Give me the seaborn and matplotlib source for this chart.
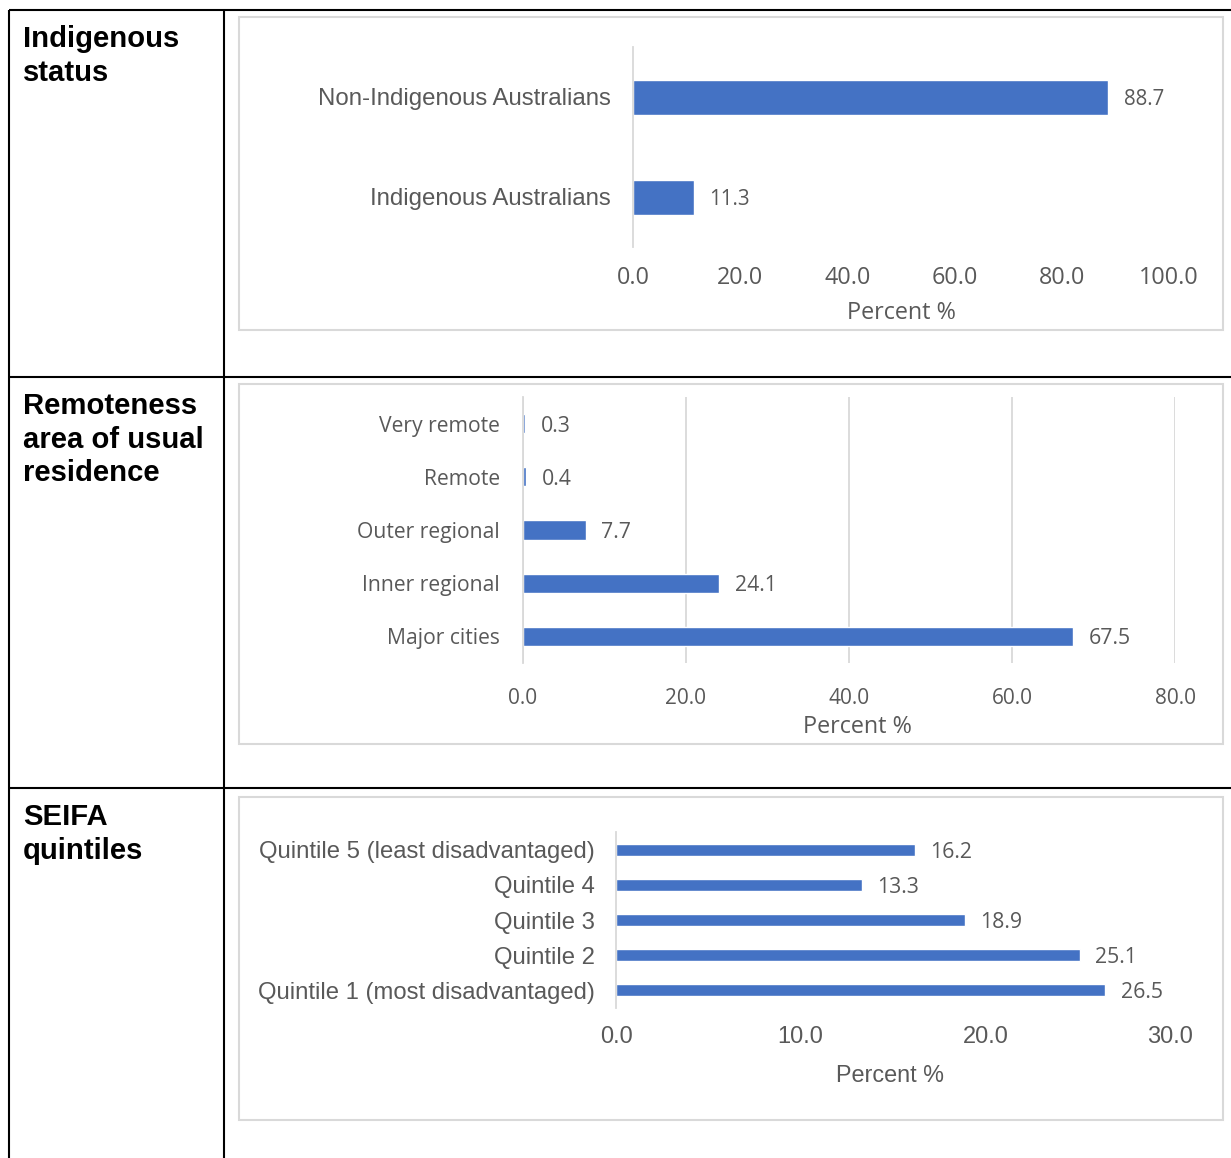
import matplotlib
matplotlib.use("Agg")
import matplotlib.pyplot as plt
from matplotlib.patches import Rectangle
from matplotlib.lines import Line2D
import seaborn as sns
import pandas as pd

# ---------------- data ----------------
indig_cats = ["Non-Indigenous Australians", "Indigenous Australians"]
indig_vals = [88.7, 11.3]

remote_cats = ["Very remote", "Remote", "Outer regional", "Inner regional", "Major cities"]
remote_vals = [0.3, 0.4, 7.7, 24.1, 67.5]

seifa_cats = ["Quintile 5 (least disadvantaged)", "Quintile 4", "Quintile 3",
              "Quintile 2", "Quintile 1 (most disadvantaged)"]
seifa_vals = [16.2, 13.3, 18.9, 25.1, 26.5]

row_headers = ["Indigenous\nstatus", "Remoteness\narea of usual\nresidence", "SEIFA\nquintiles"]
xlabel_text = "Percent %"

# ---------------- style ----------------
sns.set_theme(style="white")
plt.rcParams["font.family"] = ["Liberation Sans", "DejaVu Sans"]

W, H = 1231, 1158
fig = plt.figure(figsize=(W / 100, H / 100), dpi=100)
fig.patch.set_facecolor("white")

BAR = "#4472C4"
GREY = "#595959"
LINE = "#d9d9d9"


def fx(x):
    return x / W


def fy(y):
    return 1 - y / H


def axes_px(x0, y0, x1, y1):
    return fig.add_axes([fx(x0), fy(y1), (x1 - x0) / W, (y1 - y0) / H])


# table lines
tl = 1.5
for (xa, ya, xb, yb) in [(9, 10, 1231, 10), (9, 10, 9, 1158), (224, 10, 224, 1158),
                         (9, 377, 1231, 377), (9, 788, 1231, 788)]:
    fig.add_artist(Line2D([fx(xa), fx(xb)], [fy(ya), fy(yb)], color="black", lw=tl,
                          solid_capstyle="butt"))

# chart boxes
for (x0, y0, x1, y1) in [(239, 17, 1223, 330), (239, 384, 1223, 744), (239, 797, 1223, 1120)]:
    fig.add_artist(Rectangle((fx(x0), fy(y1)), (x1 - x0) / W, (y1 - y0) / H,
                             transform=fig.transFigure, fill=False, edgecolor=LINE, lw=1.5))

# row headers
for txt, y in zip(row_headers, [25, 392, 803]):
    fig.text(fx(23), fy(y), txt, fontsize=21.1, fontweight="bold", color="black",
             ha="left", va="top", linespacing=1.26, family=["Liberation Sans", "DejaVu Sans"])


def make_chart(ax, cats, vals, xmax, step, bw, cat_font, cat_size, tick_font, tick_size,
               val_font, val_size, lab_size, ytick_pad, xtick_pad, label_x, label_y, grid=False):
    df = pd.DataFrame({"cat": cats, "val": vals})
    sns.barplot(data=df, x="val", y="cat", order=cats, color=BAR, width=bw,
                orient="h", ax=ax, saturation=1)
    ax.set_xlim(0, xmax)
    ax.set_ylim(len(cats) - 0.5, -0.5)
    ticks = [i * step for i in range(int(round(xmax / step)) + 1)]
    ax.set_xticks(ticks)
    ax.set_xticklabels([f"{t:.1f}" for t in ticks])
    for s in ["top", "right", "bottom"]:
        ax.spines[s].set_visible(False)
    ax.spines["left"].set_color(LINE)
    ax.spines["left"].set_linewidth(1.3)
    ax.tick_params(axis="both", length=0)
    ax.tick_params(axis="y", pad=ytick_pad)
    ax.tick_params(axis="x", pad=xtick_pad)
    for lab in ax.get_yticklabels():
        lab.set_fontfamily(cat_font)
        lab.set_fontsize(cat_size)
        lab.set_color(GREY)
    for lab in ax.get_xticklabels():
        lab.set_fontfamily(tick_font)
        lab.set_fontsize(tick_size)
        lab.set_color(GREY)
    ax.set_ylabel("")
    ax.set_xlabel(xlabel_text, fontsize=lab_size, color=GREY, family=tick_font, va="center")
    ax.xaxis.set_label_coords(label_x, label_y)
    if grid:
        ax.xaxis.grid(True, color=LINE, lw=1.3)
        ax.set_axisbelow(True)
    else:
        ax.xaxis.grid(False)
    ax.yaxis.grid(False)
    ax.set_facecolor("none")
    for c in ax.containers:
        texts = ax.bar_label(c, labels=[f"{v:.1f}" for v in vals], padding=11,
                             fontsize=val_size, color=GREY, family=val_font)
        for t in texts:
            t.set_va("center_baseline")


ax1 = axes_px(633, 47, 1169, 247)
make_chart(ax1, indig_cats, indig_vals, 100, 20, 0.35,
           "Liberation Sans", 17.3, "Open Sans", 16.8, "Open Sans", 14.8, 16.8,
           16, 13.5, 0.5, (247 - 313) / 200)

ax2 = axes_px(523, 397, 1175, 663)
make_chart(ax2, remote_cats, remote_vals, 80, 20, 0.36,
           "Open Sans", 15.2, "Open Sans", 15, "Open Sans", 15.3, 16.8,
           16.5, 18, (857 - 523) / 652, (663 - 727) / 266, grid=True)

ax3 = axes_px(616, 832, 1170, 1008)
make_chart(ax3, seifa_cats, seifa_vals, 30, 10, 0.34,
           "Liberation Sans", 17.2, "Liberation Sans", 17, "Open Sans", 15.3, 16.8,
           15, 13, (890 - 616) / 554, (1008 - 1076) / 176)

fig.savefig("out.png", dpi=100, facecolor="white")
